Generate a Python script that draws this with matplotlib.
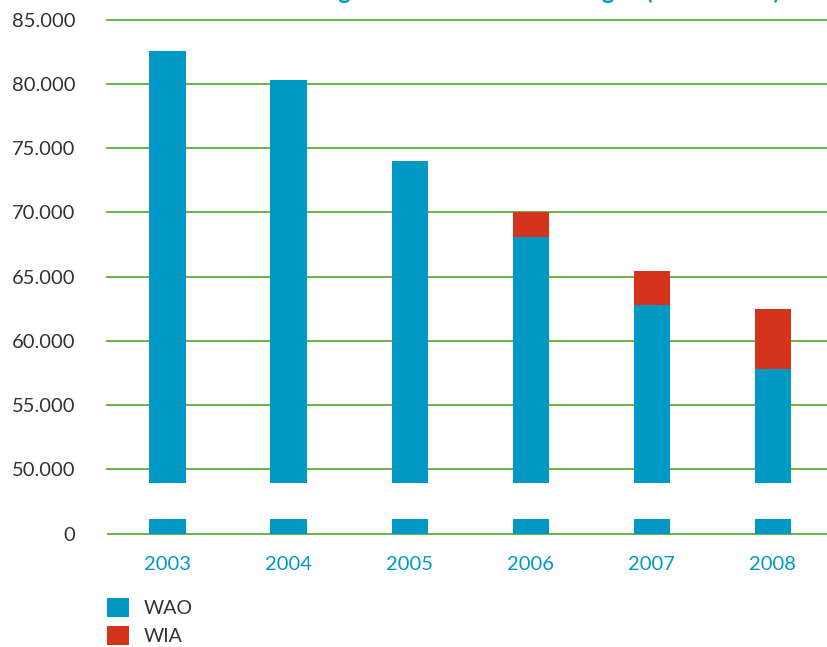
import matplotlib
matplotlib.use("Agg")
import matplotlib.pyplot as plt
from matplotlib.ticker import FuncFormatter
from matplotlib.patches import Patch

years = ["2003", "2004", "2005", "2006", "2007", "2008"]
wao = [82600, 80300, 74000, 68100, 62750, 57800]
wia = [0, 0, 0, 1900, 2700, 4700]
upper_ticks = [50000, 55000, 60000, 65000, 70000, 75000, 80000, 85000]
title = "Ontwikkeling WAO- en WIA-uitkeringen (in aantallen)"

BLUE = "#0099c6"
RED = "#d5341c"
GREEN = "#6ab344"
TXT = "#333333"

plt.rcParams['font.family'] = ['Lato', 'DejaVu Sans']

W, H = 827, 647
fig = plt.figure(figsize=(W / 100, H / 100), dpi=100)

left = 107 / W
width = 1 - left
ax_up = fig.add_axes([left, 164 / H, width, 466.84 / H])
ax_lo = fig.add_axes([left, 109.16 / H, width, 18.84 / H])

x = list(range(len(years)))
bw = 0.3
for ax in (ax_up, ax_lo):
    ax.bar(x, wao, width=bw, color=BLUE, zorder=3)
    ax.bar(x, wia, width=bw, bottom=wao, color=RED, zorder=3)
    ax.set_xlim(-0.5, 5.446)
    for s in ax.spines.values():
        s.set_visible(False)
    ax.tick_params(length=0, labelsize=14.5, labelcolor=TXT)
    ax.set_facecolor("none")

ax_up.set_ylim(48906, 85300)
ax_up.set_yticks(upper_ticks)
ax_up.yaxis.set_major_formatter(FuncFormatter(lambda v, p: f"{int(v):,}".replace(",", ".")))
ax_up.tick_params(axis='y', pad=23)
ax_up.set_xticks([])
for t in upper_ticks:
    ax_up.axhline(t, color=GREEN, lw=1.4, zorder=1, clip_on=False)

ax_lo.set_ylim(-300, 1170)
ax_lo.set_yticks([0])
ax_lo.tick_params(axis='y', pad=23)
ax_lo.axhline(0, color=GREEN, lw=1.4, zorder=1)
ax_lo.set_xticks(x)
ax_lo.set_xticklabels(years, color=BLUE, fontsize=14.5)
ax_lo.tick_params(axis='x', pad=13, labelcolor=BLUE)

fig.text(780 / W, 1 + 1 / H, title, ha='right', va='baseline', color=BLUE,
         fontsize=17, fontweight='bold')

handles = [Patch(facecolor=BLUE, label="WAO"), Patch(facecolor=RED, label="WIA")]
fig.legend(handles=handles, loc='upper left', bbox_to_anchor=(99 / W, 1 - 590 / H),
           frameon=False, handlelength=1.15, handleheight=1.15, handletextpad=0.75,
           labelspacing=0.45, fontsize=14, labelcolor=TXT, borderaxespad=0)

fig.savefig("out.png", dpi=100)
